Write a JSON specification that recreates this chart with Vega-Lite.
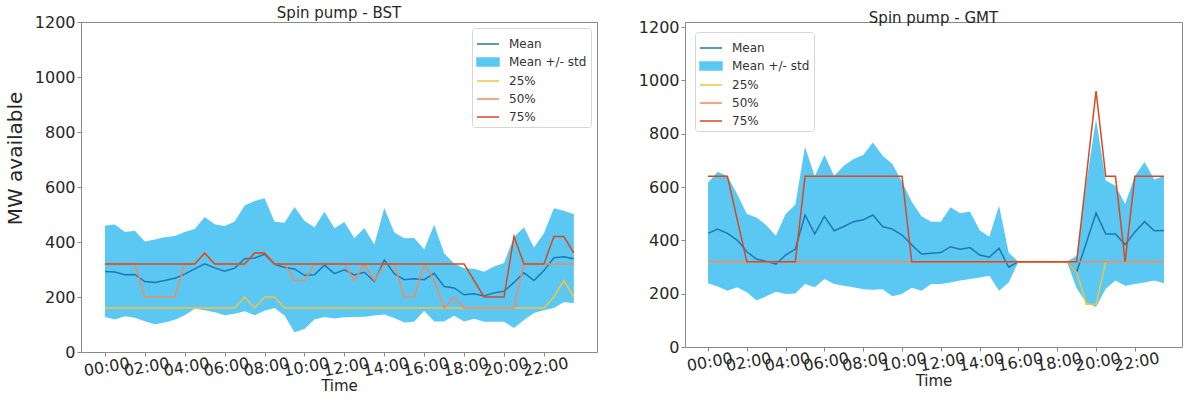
{
  "$schema": "https://vega.github.io/schema/vega-lite/v6.json",
  "padding": {"left": 4, "top": 5, "right": 0, "bottom": 0},
  "spacing": 39,
  "config": {
    "font": "DejaVu Sans",
    "view": {"stroke": "#8a8a8a", "strokeWidth": 1},
    "axis": {"grid": false, "domain": false, "tickColor": "#8a8a8a", "tickSize": 4, "labelColor": "#262626", "titleColor": "#262626", "labelFontSize": 16, "titleFontWeight": "normal", "labelOverlap": false, "labelFlush": false},
    "title": {"fontWeight": "normal", "fontSize": 15, "color": "#262626"},
    "legend": {"labelFontSize": 12, "labelColor": "#333333", "symbolSize": 484, "symbolStrokeWidth": 1.5, "symbolType": "stroke", "fillColor": "rgba(255,255,255,0.85)", "strokeColor": "#d6d6d6", "cornerRadius": 3, "padding": 4, "rowPadding": -3, "labelOffset": 9, "offset": 6}
  },
  "resolve": {"scale": {"color": "independent", "x": "independent", "y": "independent"}, "legend": {"color": "independent"}},
  "datasets": {
    "bst": [
      {"hour": 0, "Mean": 293, "lo": 127, "hi": 460, "25%": 160, "50%": 320, "75%": 320},
      {"hour": 0.5, "Mean": 291, "lo": 118, "hi": 464, "25%": 160, "50%": 320, "75%": 320},
      {"hour": 1, "Mean": 281, "lo": 130, "hi": 436, "25%": 160, "50%": 320, "75%": 320},
      {"hour": 1.5, "Mean": 282, "lo": 125, "hi": 441, "25%": 160, "50%": 320, "75%": 320},
      {"hour": 2, "Mean": 256, "lo": 112, "hi": 402, "25%": 160, "50%": 200, "75%": 320},
      {"hour": 2.5, "Mean": 253, "lo": 101, "hi": 409, "25%": 160, "50%": 200, "75%": 320},
      {"hour": 3, "Mean": 260, "lo": 107, "hi": 417, "25%": 160, "50%": 200, "75%": 320},
      {"hour": 3.5, "Mean": 268, "lo": 117, "hi": 422, "25%": 160, "50%": 200, "75%": 320},
      {"hour": 4, "Mean": 283, "lo": 134, "hi": 436, "25%": 160, "50%": 320, "75%": 320},
      {"hour": 4.5, "Mean": 302, "lo": 157, "hi": 447, "25%": 160, "50%": 320, "75%": 320},
      {"hour": 5, "Mean": 321, "lo": 152, "hi": 491, "25%": 160, "50%": 360, "75%": 360},
      {"hour": 5.5, "Mean": 306, "lo": 145, "hi": 465, "25%": 160, "50%": 320, "75%": 320},
      {"hour": 6, "Mean": 294, "lo": 134, "hi": 458, "25%": 160, "50%": 320, "75%": 320},
      {"hour": 6.5, "Mean": 305, "lo": 139, "hi": 475, "25%": 160, "50%": 320, "75%": 320},
      {"hour": 7, "Mean": 339, "lo": 148, "hi": 533, "25%": 200, "50%": 320, "75%": 320},
      {"hour": 7.5, "Mean": 342, "lo": 134, "hi": 549, "25%": 160, "50%": 360, "75%": 360},
      {"hour": 8, "Mean": 355, "lo": 150, "hi": 559, "25%": 200, "50%": 360, "75%": 360},
      {"hour": 8.5, "Mean": 319, "lo": 160, "hi": 474, "25%": 200, "50%": 320, "75%": 320},
      {"hour": 9, "Mean": 307, "lo": 133, "hi": 470, "25%": 160, "50%": 320, "75%": 320},
      {"hour": 9.5, "Mean": 302, "lo": 72, "hi": 527, "25%": 160, "50%": 260, "75%": 320},
      {"hour": 10, "Mean": 279, "lo": 84, "hi": 477, "25%": 160, "50%": 260, "75%": 320},
      {"hour": 10.5, "Mean": 281, "lo": 118, "hi": 453, "25%": 160, "50%": 320, "75%": 320},
      {"hour": 11, "Mean": 316, "lo": 127, "hi": 510, "25%": 160, "50%": 320, "75%": 320},
      {"hour": 11.5, "Mean": 285, "lo": 122, "hi": 450, "25%": 160, "50%": 320, "75%": 320},
      {"hour": 12, "Mean": 299, "lo": 126, "hi": 473, "25%": 160, "50%": 320, "75%": 320},
      {"hour": 12.5, "Mean": 280, "lo": 127, "hi": 414, "25%": 160, "50%": 260, "75%": 320},
      {"hour": 13, "Mean": 290, "lo": 128, "hi": 451, "25%": 160, "50%": 320, "75%": 320},
      {"hour": 13.5, "Mean": 256, "lo": 133, "hi": 391, "25%": 160, "50%": 260, "75%": 320},
      {"hour": 14, "Mean": 335, "lo": 136, "hi": 524, "25%": 160, "50%": 320, "75%": 320},
      {"hour": 14.5, "Mean": 285, "lo": 124, "hi": 435, "25%": 160, "50%": 320, "75%": 320},
      {"hour": 15, "Mean": 263, "lo": 107, "hi": 414, "25%": 160, "50%": 200, "75%": 320},
      {"hour": 15.5, "Mean": 266, "lo": 111, "hi": 415, "25%": 160, "50%": 200, "75%": 320},
      {"hour": 16, "Mean": 263, "lo": 150, "hi": 373, "25%": 160, "50%": 320, "75%": 320},
      {"hour": 16.5, "Mean": 286, "lo": 111, "hi": 463, "25%": 160, "50%": 260, "75%": 320},
      {"hour": 17, "Mean": 238, "lo": 111, "hi": 359, "25%": 160, "50%": 160, "75%": 320},
      {"hour": 17.5, "Mean": 233, "lo": 132, "hi": 322, "25%": 160, "50%": 200, "75%": 320},
      {"hour": 18, "Mean": 208, "lo": 111, "hi": 305, "25%": 160, "50%": 160, "75%": 320},
      {"hour": 18.5, "Mean": 212, "lo": 121, "hi": 303, "25%": 160, "50%": 160, "75%": 260},
      {"hour": 19, "Mean": 204, "lo": 110, "hi": 292, "25%": 160, "50%": 160, "75%": 200},
      {"hour": 19.5, "Mean": 215, "lo": 110, "hi": 311, "25%": 160, "50%": 160, "75%": 200},
      {"hour": 20, "Mean": 221, "lo": 110, "hi": 324, "25%": 160, "50%": 160, "75%": 200},
      {"hour": 20.5, "Mean": 253, "lo": 87, "hi": 418, "25%": 160, "50%": 160, "75%": 420},
      {"hour": 21, "Mean": 288, "lo": 116, "hi": 454, "25%": 160, "50%": 320, "75%": 320},
      {"hour": 21.5, "Mean": 260, "lo": 142, "hi": 380, "25%": 160, "50%": 320, "75%": 320},
      {"hour": 22, "Mean": 296, "lo": 152, "hi": 432, "25%": 160, "50%": 320, "75%": 320},
      {"hour": 22.5, "Mean": 343, "lo": 160, "hi": 523, "25%": 200, "50%": 320, "75%": 420},
      {"hour": 23, "Mean": 346, "lo": 182, "hi": 514, "25%": 260, "50%": 320, "75%": 420},
      {"hour": 23.5, "Mean": 339, "lo": 177, "hi": 501, "25%": 200, "50%": 320, "75%": 360}
    ],
    "gmt": [
      {"hour": 0, "Mean": 426, "lo": 239, "hi": 617, "25%": 320, "50%": 320, "75%": 640},
      {"hour": 0.5, "Mean": 442, "lo": 227, "hi": 657, "25%": 320, "50%": 320, "75%": 640},
      {"hour": 1, "Mean": 426, "lo": 211, "hi": 640, "25%": 320, "50%": 320, "75%": 640},
      {"hour": 1.5, "Mean": 401, "lo": 224, "hi": 574, "25%": 320, "50%": 320, "75%": 480},
      {"hour": 2, "Mean": 357, "lo": 205, "hi": 499, "25%": 320, "50%": 320, "75%": 320},
      {"hour": 2.5, "Mean": 330, "lo": 174, "hi": 486, "25%": 320, "50%": 320, "75%": 320},
      {"hour": 3, "Mean": 321, "lo": 190, "hi": 457, "25%": 320, "50%": 320, "75%": 320},
      {"hour": 3.5, "Mean": 311, "lo": 207, "hi": 417, "25%": 320, "50%": 320, "75%": 320},
      {"hour": 4, "Mean": 345, "lo": 199, "hi": 499, "25%": 320, "50%": 320, "75%": 320},
      {"hour": 4.5, "Mean": 367, "lo": 201, "hi": 533, "25%": 320, "50%": 320, "75%": 320},
      {"hour": 5, "Mean": 495, "lo": 236, "hi": 751, "25%": 320, "50%": 320, "75%": 640},
      {"hour": 5.5, "Mean": 424, "lo": 224, "hi": 640, "25%": 320, "50%": 320, "75%": 640},
      {"hour": 6, "Mean": 490, "lo": 255, "hi": 720, "25%": 320, "50%": 320, "75%": 640},
      {"hour": 6.5, "Mean": 436, "lo": 236, "hi": 642, "25%": 320, "50%": 320, "75%": 640},
      {"hour": 7, "Mean": 452, "lo": 230, "hi": 680, "25%": 320, "50%": 320, "75%": 640},
      {"hour": 7.5, "Mean": 470, "lo": 224, "hi": 705, "25%": 320, "50%": 320, "75%": 640},
      {"hour": 8, "Mean": 477, "lo": 217, "hi": 720, "25%": 320, "50%": 320, "75%": 640},
      {"hour": 8.5, "Mean": 495, "lo": 215, "hi": 767, "25%": 320, "50%": 320, "75%": 640},
      {"hour": 9, "Mean": 452, "lo": 217, "hi": 717, "25%": 320, "50%": 320, "75%": 640},
      {"hour": 9.5, "Mean": 442, "lo": 190, "hi": 686, "25%": 320, "50%": 320, "75%": 640},
      {"hour": 10, "Mean": 420, "lo": 199, "hi": 620, "25%": 320, "50%": 320, "75%": 640},
      {"hour": 10.5, "Mean": 383, "lo": 222, "hi": 545, "25%": 320, "50%": 320, "75%": 320},
      {"hour": 11, "Mean": 349, "lo": 211, "hi": 490, "25%": 320, "50%": 320, "75%": 320},
      {"hour": 11.5, "Mean": 352, "lo": 236, "hi": 470, "25%": 320, "50%": 320, "75%": 320},
      {"hour": 12, "Mean": 354, "lo": 236, "hi": 470, "25%": 320, "50%": 320, "75%": 320},
      {"hour": 12.5, "Mean": 376, "lo": 242, "hi": 524, "25%": 320, "50%": 320, "75%": 320},
      {"hour": 13, "Mean": 367, "lo": 249, "hi": 502, "25%": 320, "50%": 320, "75%": 320},
      {"hour": 13.5, "Mean": 373, "lo": 255, "hi": 508, "25%": 320, "50%": 320, "75%": 320},
      {"hour": 14, "Mean": 345, "lo": 261, "hi": 438, "25%": 320, "50%": 320, "75%": 320},
      {"hour": 14.5, "Mean": 337, "lo": 267, "hi": 413, "25%": 320, "50%": 320, "75%": 320},
      {"hour": 15, "Mean": 370, "lo": 211, "hi": 530, "25%": 320, "50%": 320, "75%": 320},
      {"hour": 15.5, "Mean": 299, "lo": 242, "hi": 353, "25%": 320, "50%": 320, "75%": 320},
      {"hour": 16, "Mean": 320, "lo": 320, "hi": 320, "25%": 320, "50%": 320, "75%": 320},
      {"hour": 16.5, "Mean": 320, "lo": 320, "hi": 320, "25%": 320, "50%": 320, "75%": 320},
      {"hour": 17, "Mean": 320, "lo": 320, "hi": 320, "25%": 320, "50%": 320, "75%": 320},
      {"hour": 17.5, "Mean": 320, "lo": 320, "hi": 320, "25%": 320, "50%": 320, "75%": 320},
      {"hour": 18, "Mean": 320, "lo": 320, "hi": 320, "25%": 320, "50%": 320, "75%": 320},
      {"hour": 18.5, "Mean": 320, "lo": 320, "hi": 320, "25%": 320, "50%": 320, "75%": 320},
      {"hour": 19, "Mean": 281, "lo": 220, "hi": 342, "25%": 280, "50%": 320, "75%": 320},
      {"hour": 19.5, "Mean": 391, "lo": 165, "hi": 617, "25%": 160, "50%": 320, "75%": 640},
      {"hour": 20, "Mean": 502, "lo": 150, "hi": 855, "25%": 160, "50%": 320, "75%": 960},
      {"hour": 20.5, "Mean": 424, "lo": 218, "hi": 624, "25%": 320, "50%": 320, "75%": 640},
      {"hour": 21, "Mean": 424, "lo": 249, "hi": 605, "25%": 320, "50%": 320, "75%": 640},
      {"hour": 21.5, "Mean": 384, "lo": 230, "hi": 536, "25%": 320, "50%": 320, "75%": 320},
      {"hour": 22, "Mean": 431, "lo": 236, "hi": 641, "25%": 320, "50%": 320, "75%": 640},
      {"hour": 22.5, "Mean": 470, "lo": 242, "hi": 694, "25%": 320, "50%": 320, "75%": 640},
      {"hour": 23, "Mean": 436, "lo": 249, "hi": 628, "25%": 320, "50%": 320, "75%": 640},
      {"hour": 23.5, "Mean": 437, "lo": 239, "hi": 641, "25%": 320, "50%": 320, "75%": 640}
    ]
  },
  "hconcat": [
    {
      "width": 516,
      "height": 330,
      "title": {"text": "Spin pump - BST", "offset": -7},
      "data": {"name": "bst"},
      "layer": [
        {
          "mark": {"type": "area"},
          "encoding": {
            "x": {"field": "hour", "type": "quantitative", "scale": {"domain": [-1.2, 24.66], "nice": false, "zero": false},
              "axis": {"values": [0, 2, 4, 6, 8, 10, 12, 14, 16, 18, 20, 22], "labelExpr": "(datum.value < 10 ? '0' : '') + datum.value + ':00'", "labelAngle": -10, "labelAlign": "center", "labelBaseline": "top", "labelPadding": 3, "title": "Time", "titleFontSize": 15, "titlePadding": 0}},
            "y": {"field": "lo", "type": "quantitative", "scale": {"domain": [0, 1200], "nice": false},
              "axis": {"values": [0, 200, 400, 600, 800, 1000, 1200], "format": "d", "labelPadding": 2, "title": "MW available", "titleFontSize": 20, "titlePadding": 9, "titleY": 136}},
            "y2": {"field": "hi"},
            "color": {"datum": "Mean +/- std", "type": "nominal",
              "scale": {"domain": ["Mean", "Mean +/- std", "25%", "50%", "75%"], "range": ["#1f77b4", "#5bc8f4", "#f5c242", "#f08a5d", "#d8491f"]},
              "legend": {"title": null, "orient": "top-right", "offset": 6,
                "encode": {"symbols": {"update": {
                  "shape": {"signal": "datum.value === 'Mean +/- std' ? 'M-1,-0.36L1,-0.36L1,0.36L-1,0.36Z' : 'stroke'"},
                  "fill": {"signal": "datum.value === 'Mean +/- std' ? '#5bc8f4' : 'transparent'"},
                  "stroke": {"signal": "datum.value === 'Mean +/- std' ? 'transparent' : datum.value === 'Mean' ? '#1f77b4' : datum.value === '25%' ? '#f5c242' : datum.value === '50%' ? '#f08a5d' : '#d8491f'"},
                  "strokeWidth": {"value": 1.5}
                }}}}}
          }
        },
        {
          "transform": [{"fold": ["Mean", "25%", "50%", "75%"], "as": ["series", "value"]}],
          "mark": {"type": "line", "strokeWidth": 1.5},
          "encoding": {
            "x": {"field": "hour", "type": "quantitative"},
            "y": {"field": "value", "type": "quantitative"},
            "color": {"field": "series", "type": "nominal",
              "scale": {"domain": ["Mean", "Mean +/- std", "25%", "50%", "75%"], "range": ["#1f77b4", "#5bc8f4", "#f5c242", "#f08a5d", "#d8491f"]},
              "legend": {"title": null, "orient": "top-right", "offset": 6,
                "encode": {"symbols": {"update": {
                  "shape": {"signal": "datum.value === 'Mean +/- std' ? 'M-1,-0.36L1,-0.36L1,0.36L-1,0.36Z' : 'stroke'"},
                  "fill": {"signal": "datum.value === 'Mean +/- std' ? '#5bc8f4' : 'transparent'"},
                  "stroke": {"signal": "datum.value === 'Mean +/- std' ? 'transparent' : datum.value === 'Mean' ? '#1f77b4' : datum.value === '25%' ? '#f5c242' : datum.value === '50%' ? '#f08a5d' : '#d8491f'"},
                  "strokeWidth": {"value": 1.5}
                }}}}}
          }
        }
      ]
    },
    {
      "width": 497,
      "height": 325,
      "title": {"text": "Spin pump - GMT", "offset": -7},
      "data": {"name": "gmt"},
      "layer": [
        {
          "mark": {"type": "area"},
          "encoding": {
            "x": {"field": "hour", "type": "quantitative", "scale": {"domain": [-1.186, 24.43], "nice": false, "zero": false},
              "axis": {"values": [0, 2, 4, 6, 8, 10, 12, 14, 16, 18, 20, 22], "labelExpr": "(datum.value < 10 ? '0' : '') + datum.value + ':00'", "labelAngle": -10, "labelAlign": "center", "labelBaseline": "top", "labelPadding": 3, "title": "Time", "titleFontSize": 15, "titlePadding": 0}},
            "y": {"field": "lo", "type": "quantitative", "scale": {"domain": [0, 1218.75], "nice": false},
              "axis": {"values": [0, 200, 400, 600, 800, 1000, 1200], "format": "d", "labelPadding": 2, "title": null}},
            "y2": {"field": "hi"},
            "color": {"datum": "Mean +/- std", "type": "nominal",
              "scale": {"domain": ["Mean", "Mean +/- std", "25%", "50%", "75%"], "range": ["#1f77b4", "#5bc8f4", "#f5c242", "#f08a5d", "#d8491f"]},
              "legend": {"title": null, "orient": "top-left", "offset": 10,
                "encode": {"symbols": {"update": {
                  "shape": {"signal": "datum.value === 'Mean +/- std' ? 'M-1,-0.36L1,-0.36L1,0.36L-1,0.36Z' : 'stroke'"},
                  "fill": {"signal": "datum.value === 'Mean +/- std' ? '#5bc8f4' : 'transparent'"},
                  "stroke": {"signal": "datum.value === 'Mean +/- std' ? 'transparent' : datum.value === 'Mean' ? '#1f77b4' : datum.value === '25%' ? '#f5c242' : datum.value === '50%' ? '#f08a5d' : '#d8491f'"},
                  "strokeWidth": {"value": 1.5}
                }}}}}
          }
        },
        {
          "transform": [{"fold": ["Mean", "25%", "50%", "75%"], "as": ["series", "value"]}],
          "mark": {"type": "line", "strokeWidth": 1.5},
          "encoding": {
            "x": {"field": "hour", "type": "quantitative"},
            "y": {"field": "value", "type": "quantitative"},
            "color": {"field": "series", "type": "nominal",
              "scale": {"domain": ["Mean", "Mean +/- std", "25%", "50%", "75%"], "range": ["#1f77b4", "#5bc8f4", "#f5c242", "#f08a5d", "#d8491f"]},
              "legend": {"title": null, "orient": "top-left", "offset": 10,
                "encode": {"symbols": {"update": {
                  "shape": {"signal": "datum.value === 'Mean +/- std' ? 'M-1,-0.36L1,-0.36L1,0.36L-1,0.36Z' : 'stroke'"},
                  "fill": {"signal": "datum.value === 'Mean +/- std' ? '#5bc8f4' : 'transparent'"},
                  "stroke": {"signal": "datum.value === 'Mean +/- std' ? 'transparent' : datum.value === 'Mean' ? '#1f77b4' : datum.value === '25%' ? '#f5c242' : datum.value === '50%' ? '#f08a5d' : '#d8491f'"},
                  "strokeWidth": {"value": 1.5}
                }}}}}
          }
        }
      ]
    }
  ]
}
